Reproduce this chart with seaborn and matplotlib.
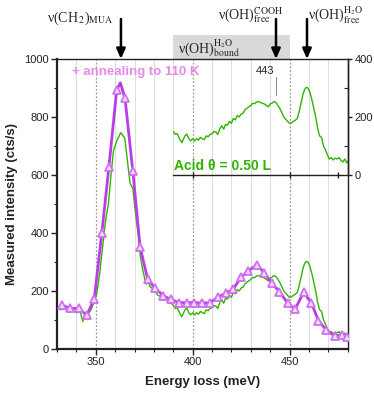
import numpy as np
import pandas as pd
import matplotlib
matplotlib.use("Agg")
import matplotlib.pyplot as plt
from matplotlib.patches import Rectangle
import seaborn as sns

# ---------------- data ----------------
green_x = [330, 332, 334, 336, 338, 340, 342, 343.3, 344.5, 346, 347.5, 349, 350.5, 352, 353.5,
           355, 356.5, 358, 359.2, 361, 362.9, 365, 366.5, 367.7, 369.1, 370.5, 372, 373, 374,
           375, 376, 377, 378, 379, 380, 381, 382, 384, 385, 386, 388, 389, 390, 391, 392, 393,
           394.4, 396, 397, 398, 399, 400, 401, 402, 403, 404, 405, 406, 407, 408, 409, 410, 411,
           412, 413, 414, 415, 416, 417, 418, 419, 420, 421, 422, 423, 424, 425, 426, 427, 428,
           429, 430, 431, 432, 433, 434, 435, 436, 437, 438, 439, 440, 441, 442, 443, 444, 445,
           446, 447, 448, 449, 450, 451, 452, 453, 454, 455, 456, 457, 458, 458.7, 459.5, 460.5,
           461.5, 462.5, 463.5, 464.5, 465.5, 466.5, 467.5, 468.5, 469.5, 470.5, 471.5, 472.5,
           473.5, 474.5, 475.5, 476.5, 477.5, 478.5, 479.5, 480]
green_y = [140, 135, 140, 128, 132, 125, 128, 95, 125, 120, 135, 160, 190, 260, 350,
           440, 500, 610, 686, 720, 746, 727, 640, 571, 554, 470, 387, 320, 280,
           250, 224, 235, 215, 210, 200, 195, 185, 180, 170, 172, 160, 158, 150, 140, 143, 128,
           111, 135, 141, 125, 118, 125, 118, 125, 120, 130, 125, 122, 135, 132, 140, 142, 150,
           148, 140, 160, 170, 158, 175, 172, 185, 178, 195, 190, 205, 200, 210, 213, 225, 230,
           235, 240, 247, 246, 252, 253, 250, 247, 245, 240, 235, 245, 248, 253, 250, 240, 229,
           215, 200, 192, 185, 178, 180, 185, 189, 195, 220, 250, 280, 298, 302, 300, 285,
           260, 230, 200, 160, 135, 130, 100, 87, 70, 55, 60, 52,
           58, 55, 60, 50, 45, 55, 42, 47]

pink_x = [332.4, 336.7, 341.2, 345.3, 349.2, 353.1, 356.8, 360.8, 362.7, 365.1, 369.1, 372.9,
          376.8, 380.8, 384.9, 388.7, 393.0, 397.0, 400.9, 404.9, 409.0, 413.3, 417.3, 421.0,
          424.9, 428.8, 433.1, 437.0, 440.9, 444.8, 449.0, 452.9, 457.2, 461.2, 464.9, 468.9,
          473.2, 477.0, 479.6]
pink_y = [152, 140, 140, 117, 171, 399, 629, 893, 918, 864, 615, 351,
          240, 209, 183, 171, 160, 160, 160, 158, 160, 180, 192, 207,
          247, 270, 290, 263, 226, 198, 158, 138, 195, 160, 98, 66,
          45, 48, 42]
pink_marked = [i for i in range(len(pink_x)) if i != 8]

x_major = [350, 400, 450]
y_major = [0, 200, 400, 600, 800, 1000]
inset_y_ticks = [0, 200, 400]

green_c = "#2fb400"
pink_line = "#b93ce6"
pink_mark = "#cf70f0"
pink_text = "#e58ae8"

# ---------------- style ----------------
sns.set_theme(style="ticks")
plt.rcParams["font.family"] = ["Liberation Sans", "DejaVu Sans"]
plt.rcParams["mathtext.fontset"] = "stix"

fig = plt.figure(figsize=(3.74, 3.99), dpi=100)
ax = fig.add_axes([57 / 374, 1 - 349 / 399, (347.7 - 57) / 374, (349 - 59) / 399])

ax.set_xlim(330, 480)
ax.set_ylim(0, 1000)

# grid
ax.set_xticks(x_major)
ax.set_xticks(np.arange(330, 481, 10), minor=True)
ax.set_yticks(y_major)
ax.set_yticks(np.arange(0, 1001, 100), minor=True)
ax.grid(False)
ax.grid(True, which="minor", axis="x", color="#dcdcdc", lw=0.7, ls="-")
ax.grid(True, which="major", axis="x", color="#9a9a9a", lw=0.9, ls=(0, (1.5, 1.5)))
ax.set_axisbelow(True)

df_g = pd.DataFrame({"x": green_x, "y": green_y})
df_p = pd.DataFrame({"x": pink_x, "y": pink_y})
sns.lineplot(data=df_g, x="x", y="y", ax=ax, color=green_c, lw=1.0, zorder=3)
sns.lineplot(data=df_p, x="x", y="y", ax=ax, color=pink_line, lw=2.0, zorder=4,
             marker="^", markevery=pink_marked, markersize=5.2,
             markerfacecolor="#f3dcfa", markeredgecolor=pink_mark, markeredgewidth=1.3)

ax.tick_params(axis="both", which="major", direction="out", length=4, width=1, labelsize=8,
               pad=2, colors="#222222", labelcolor="#222222")
ax.tick_params(axis="both", which="minor", direction="out", length=2, width=0.8, colors="#222222")
ax.tick_params(axis="x", which="both", top=False)
ax.tick_params(axis="y", which="both", right=False)
for s in ["left", "bottom"]:
    ax.spines[s].set_linewidth(1.6)
    ax.spines[s].set_color("#222222")
for s in ["top", "right"]:
    ax.spines[s].set_linewidth(1.0)
    ax.spines[s].set_color("#222222")

ax.set_xlabel("Energy loss (meV)", fontsize=9.5, fontweight="bold", labelpad=6, color="#222222")
ax.set_ylabel("Measured intensity (cts/s)", fontsize=9.5, fontweight="bold", labelpad=4, color="#222222")

ax.text(337.6, 955, "+ annealing to 110 K", color=pink_text, fontsize=9.5, fontweight="bold",
        ha="left", va="center", zorder=6)

# ---------------- inset ----------------
axin = ax.inset_axes([390, 600, 90, 400], transform=ax.transData)
axin.patch.set_alpha(0)
mask = [i for i, v in enumerate(green_x) if v >= 390]
df_gi = pd.DataFrame({"x": [green_x[i] for i in mask], "y": [green_y[i] for i in mask]})
sns.lineplot(data=df_gi, x="x", y="y", ax=axin, color=green_c, lw=1.0)
axin.set_xlim(390, 480)
axin.set_ylim(0, 400)
axin.set_xlabel("")
axin.set_ylabel("")
axin.grid(False)
axin.spines["left"].set_visible(False)
axin.spines["top"].set_visible(False)
axin.spines["right"].set_linewidth(1.0)
axin.spines["bottom"].set_linewidth(1.0)
axin.spines["right"].set_color("#222222")
axin.spines["bottom"].set_color("#222222")
axin.set_xticks([400, 450])
axin.set_xticks([475], minor=True)
axin.tick_params(axis="x", which="both", direction="inout", length=5, width=1,
                 labelbottom=False, colors="#222222")
axin.yaxis.tick_right()
axin.set_yticks(inset_y_ticks)
axin.set_yticks([100, 300], minor=True)
axin.tick_params(axis="y", which="major", direction="out", length=3, width=1, labelsize=8,
                 pad=2, colors="#222222", labelcolor="#222222")
axin.tick_params(axis="y", which="minor", direction="in", length=3, width=0.8, colors="#222222")
axin.tick_params(axis="y", which="both", left=False)

axin.text(437.5, 357, "443", fontsize=8, ha="center", va="center", color="#222222")
axin.plot([443, 443], [338, 276], color="#888888", lw=0.7)
axin.text(390.3, 31, r"Acid θ = 0.50 L", color=green_c, fontsize=10, fontweight="bold",
          ha="left", va="center")

# ---------------- annotations above ----------------
tr = ax.get_xaxis_transform()
ax.add_patch(Rectangle((390, 1.0), 60, (349 - 35) / 290 - 1.0, transform=tr,
                       facecolor="#d9d9d9", edgecolor="none", clip_on=False, zorder=1))

arrow_kw = dict(arrowstyle="-|>,head_length=0.5,head_width=0.22", color="black", lw=1.8,
                shrinkA=0, shrinkB=0)
for xa in [363, 443, 459]:
    ax.annotate("", xy=(xa, 1.0), xytext=(xa, (349 - 19) / 290), xycoords=tr, textcoords=tr,
                arrowprops=arrow_kw, annotation_clip=False)

serif = ["Liberation Serif", "DejaVu Serif"]
ax.text(342.0, (349 - 18) / 290, r"ν(CH$_{\,2}$)$_{\mathrm{MUA}}$", transform=tr, fontsize=10,
        family=serif, ha="center", va="center")
ax.text(430.0, (349 - 15) / 290, r"ν(OH)$^{\mathrm{COOH}}_{\mathrm{free}}$", transform=tr,
        fontsize=10, family=serif, ha="center", va="center")
ax.text(474.0, (349 - 15) / 290, r"ν(OH)$^{\mathrm{H_2O}}_{\mathrm{free}}$", transform=tr,
        fontsize=10, family=serif, ha="center", va="center")
ax.text(408.5, (349 - 48) / 290, r"ν(OH)$^{\mathrm{H_2O}}_{\mathrm{bound}}$", transform=tr,
        fontsize=10, family=serif, ha="center", va="center")

fig.savefig("out.png", dpi=100)
